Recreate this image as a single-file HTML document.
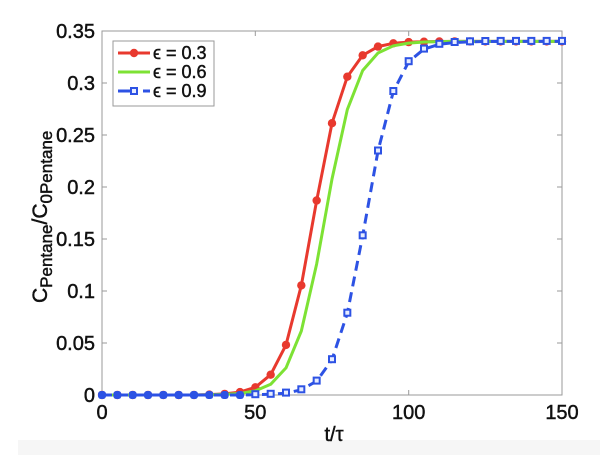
<!DOCTYPE html>
<html><head><meta charset="utf-8"><style>
html,body{margin:0;padding:0;background:#fff;}
svg{display:block;}
text{font-family:"Liberation Sans","DejaVu Sans",sans-serif;fill:#111;stroke:#111;stroke-width:0.45;}
</style></head><body>
<svg width="600" height="455" viewBox="0 0 600 455" xmlns="http://www.w3.org/2000/svg">
<rect x="0" y="0" width="600" height="455" fill="#fff"/>
<rect x="18" y="440" width="582" height="15" fill="#f6f6f6"/>
<!-- axes box -->
<rect x="102" y="31" width="460" height="364" fill="#fff" stroke="#9a9a9a" stroke-width="1"/>
<!-- ticks -->
<g stroke="#9a9a9a" stroke-width="1">
<line x1="255.3" y1="395" x2="255.3" y2="390"/><line x1="408.7" y1="395" x2="408.7" y2="390"/>
<line x1="255.3" y1="31" x2="255.3" y2="36"/><line x1="408.7" y1="31" x2="408.7" y2="36"/>
<line x1="102" y1="343" x2="107" y2="343"/><line x1="102" y1="291" x2="107" y2="291"/>
<line x1="102" y1="239" x2="107" y2="239"/><line x1="102" y1="187" x2="107" y2="187"/>
<line x1="102" y1="135" x2="107" y2="135"/><line x1="102" y1="83" x2="107" y2="83"/>
<line x1="562" y1="343" x2="557" y2="343"/><line x1="562" y1="291" x2="557" y2="291"/>
<line x1="562" y1="239" x2="557" y2="239"/><line x1="562" y1="187" x2="557" y2="187"/>
<line x1="562" y1="135" x2="557" y2="135"/><line x1="562" y1="83" x2="557" y2="83"/>
</g>
<!-- y tick labels -->
<g font-size="20" text-anchor="end">
<text x="95" y="402">0</text>
<text x="95" y="350">0.05</text>
<text x="95" y="298">0.1</text>
<text x="95" y="246">0.15</text>
<text x="95" y="194">0.2</text>
<text x="95" y="142">0.25</text>
<text x="95" y="90">0.3</text>
<text x="95" y="38">0.35</text>
</g>
<!-- x tick labels -->
<g font-size="20" text-anchor="middle">
<text x="102" y="419">0</text>
<text x="255.3" y="419">50</text>
<text x="408.7" y="419">100</text>
<text x="562" y="419">150</text>
</g>
<text x="334" y="441" font-size="20" text-anchor="middle">t/τ</text>
<!-- y label -->
<text transform="translate(47,303) rotate(-90)" font-size="21">C<tspan font-size="17" dy="5">Pentane</tspan><tspan dy="-5">/C</tspan><tspan font-size="17" dy="5">0Pentane</tspan></text>

<!-- red series -->
<polyline fill="none" stroke="#e8392e" stroke-width="3" stroke-linejoin="round" points="102,395 117.33,395 132.67,395 148,395 163.33,395 178.67,395 194,395 209.33,394.6 224.67,393.9 240,392.1 255.33,387.3 270.67,374.7 286,344.9 301.33,285.4 316.67,200.5 332,123.2 347.33,76.7 362.67,55.3 378,46.6 393.33,43.3 408.67,42.1 424,41.7 439.33,41.5 454.67,41.4 470,41.4 485.33,41.4 500.67,41.4 516,41.4 531.33,41.4 546.67,41.4 562,41.4"/>
<g fill="#e8392e">
<circle cx="102" cy="395" r="4.2"/><circle cx="117.33" cy="395" r="4.2"/><circle cx="132.67" cy="395" r="4.2"/><circle cx="148" cy="395" r="4.2"/><circle cx="163.33" cy="395" r="4.2"/><circle cx="178.67" cy="395" r="4.2"/><circle cx="194" cy="395" r="4.2"/><circle cx="209.33" cy="394.6" r="4.2"/><circle cx="224.67" cy="393.9" r="4.2"/><circle cx="240" cy="392.1" r="4.2"/><circle cx="255.33" cy="387.3" r="4.2"/><circle cx="270.67" cy="374.7" r="4.2"/><circle cx="286" cy="344.9" r="4.2"/><circle cx="301.33" cy="285.4" r="4.2"/><circle cx="316.67" cy="200.5" r="4.2"/><circle cx="332" cy="123.2" r="4.2"/><circle cx="347.33" cy="76.7" r="4.2"/><circle cx="362.67" cy="55.3" r="4.2"/><circle cx="378" cy="46.6" r="4.2"/><circle cx="393.33" cy="43.3" r="4.2"/><circle cx="408.67" cy="42.1" r="4.2"/><circle cx="424" cy="41.7" r="4.2"/><circle cx="439.33" cy="41.5" r="4.2"/><circle cx="454.67" cy="41.4" r="4.2"/><circle cx="470" cy="41.4" r="4.2"/><circle cx="485.33" cy="41.4" r="4.2"/><circle cx="500.67" cy="41.4" r="4.2"/><circle cx="516" cy="41.4" r="4.2"/><circle cx="531.33" cy="41.4" r="4.2"/><circle cx="546.67" cy="41.4" r="4.2"/><circle cx="562" cy="41.4" r="4.2"/>
</g>
<!-- green series -->
<polyline fill="none" stroke="#7de234" stroke-width="3" stroke-linejoin="round" points="102,395 117.33,395 132.67,395 148,395 163.33,395 178.67,395 194,395 209.33,394.8 224.67,394.4 240,393.5 255.33,390.9 270.67,384.3 286,367.9 301.33,331.0 316.67,263.9 332,179.0 347.33,109.6 362.67,70.5 378,53.0 393.33,45.8 408.67,43.1 424,42.0 439.33,41.6 454.67,41.4 470,41.4 485.33,41.4 500.67,41.4 516,41.4 531.33,41.4 546.67,41.4 562,41.4"/>
<!-- blue series -->
<polyline fill="none" stroke="#2d52e4" stroke-width="3" stroke-dasharray="10,6" stroke-linejoin="round" points="102,395 117.33,395 132.67,395 148,395 163.33,395 178.67,395 194,395 209.33,395 224.67,395 240,395 255.33,394.7 270.67,394.3 286,393.1 301.33,389.8 316.67,381.1 332,359.7 347.33,313.2 362.67,235.8 378,151.0 393.33,91.5 408.67,61.7 424,49.1 439.33,44.3 454.67,42.5 470,41.8 485.33,41.5 500.67,41.4 516,41.4 531.33,41.4 546.67,41.4 562,41.4"/>
<g fill="#2d52e4">
<rect x="98" y="391" width="8" height="8" rx="3"/><rect x="113.33" y="391" width="8" height="8" rx="3"/><rect x="128.67" y="391" width="8" height="8" rx="3"/><rect x="144" y="391" width="8" height="8" rx="3"/><rect x="159.33" y="391" width="8" height="8" rx="3"/><rect x="174.67" y="391" width="8" height="8" rx="3"/><rect x="190" y="391" width="8" height="8" rx="3"/><rect x="205.33" y="391" width="8" height="8" rx="3"/><rect x="220.67" y="391" width="8" height="8" rx="3"/><rect x="236" y="391" width="8" height="8" rx="3"/>
</g>
<g fill="#e6ecff" stroke="#2d52e4" stroke-width="2">
<rect x="252.33" y="391.2" width="6" height="6"/><rect x="267.67" y="390.8" width="6" height="6"/><rect x="283" y="389.6" width="6" height="6"/><rect x="298.33" y="386.3" width="6" height="6"/><rect x="313.67" y="377.6" width="6" height="6"/><rect x="329" y="356.2" width="6" height="6"/><rect x="344.33" y="309.7" width="6" height="6"/><rect x="359.67" y="232.3" width="6" height="6"/><rect x="375" y="147.5" width="6" height="6"/><rect x="390.33" y="88" width="6" height="6"/><rect x="405.67" y="58.2" width="6" height="6"/><rect x="421" y="45.6" width="6" height="6"/><rect x="436.33" y="40.8" width="6" height="6"/><rect x="451.67" y="39" width="6" height="6"/><rect x="467" y="38.3" width="6" height="6"/><rect x="482.33" y="38" width="6" height="6"/><rect x="497.67" y="37.9" width="6" height="6"/><rect x="513" y="37.9" width="6" height="6"/><rect x="528.33" y="37.9" width="6" height="6"/><rect x="543.67" y="37.9" width="6" height="6"/><rect x="559" y="37.9" width="6" height="6"/>
</g>

<!-- legend -->
<rect x="113" y="41" width="101" height="65" fill="#fff" stroke="#9a9a9a" stroke-width="1"/>
<line x1="118" y1="53" x2="150" y2="53" stroke="#e8392e" stroke-width="3"/>
<circle cx="134" cy="53" r="4.2" fill="#e8392e"/>
<line x1="118" y1="72" x2="150" y2="72" stroke="#7de234" stroke-width="3"/>
<line x1="118" y1="91" x2="131" y2="91" stroke="#2d52e4" stroke-width="3"/>
<line x1="143" y1="91" x2="150" y2="91" stroke="#2d52e4" stroke-width="3"/>
<rect x="131" y="88" width="6" height="6" fill="#e6ecff" stroke="#2d52e4" stroke-width="2"/>
<g font-size="18">
<text x="153" y="59">ϵ = 0.3</text>
<text x="153" y="78">ϵ = 0.6</text>
<text x="153" y="97">ϵ = 0.9</text>
</g>
</svg>
</body></html>
